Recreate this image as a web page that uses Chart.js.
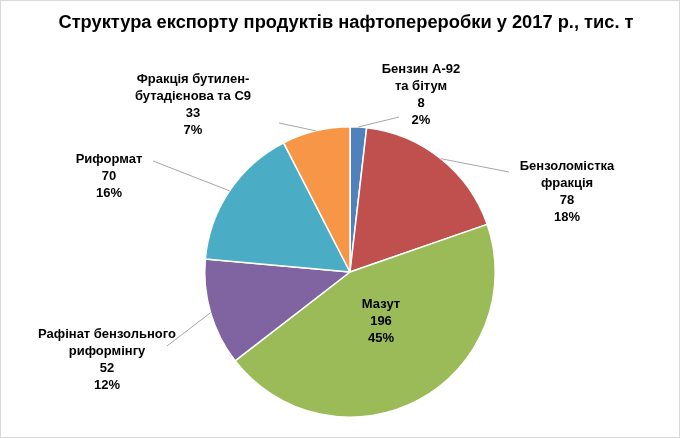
<!DOCTYPE html>
<html><head><meta charset="utf-8">
<script src="https://cdn.jsdelivr.net/npm/chart.js@4"></script>
<style>
html,body{margin:0;padding:0;background:#fff}
#wrap{width:678px;height:436px;border:1px solid #d9d9d9;position:relative}
</style></head>
<body><div id="wrap"><canvas id="c" width="678" height="436"></canvas></div>
<script>
const title = "Структура експорту продуктів нафтопереробки у 2017 р., тис. т";
const categories = [["Бензин А-92","та бітум"],["Бензоломістка","фракція"],["Мазут"],["Рафінат бензольного","риформінгу"],["Риформат"],["Фракція бутилен-","бутадієнова та С9"]];
const values = [8,78,196,52,70,33];
const percents = ["2%","18%","45%","12%","16%","7%"];
const colors = ["#4F81BD","#C0504D","#9BBB59","#8064A2","#4BACC6","#F79646"];
// label anchor (center of first text line) and leader end, layout only
const labelPos = [[420,68,398,116],[566,165,508,171],[380,303,null,null],[106,333,166,345],[108,158,152,160],[192,78,278,122]];

const labelsPlugin = {
  id:"lbls",
  afterDraw(chart){
    const ctx = chart.ctx;
    ctx.save();
    ctx.fillStyle="#000";
    ctx.font="bold 18.3px 'Liberation Sans', Arial";
    ctx.textAlign="center";ctx.textBaseline="middle";
    ctx.fillText(title,345,22);
    ctx.font="bold 13px 'Liberation Sans', Arial";
    const arcs = chart.getDatasetMeta(0).data;
    arcs.forEach((a,i)=>{
      const [x,y,lx,ly]=labelPos[i];
      const lines=[...categories[i],String(values[i]),percents[i]];
      lines.forEach((t,k)=>ctx.fillText(t,x,y+k*17.3));
      if(lx!==null){
        const mid=(a.startAngle+a.endAngle)/2;
        const r=a.outerRadius;
        ctx.strokeStyle="#a6a6a6";ctx.lineWidth=1;
        ctx.beginPath();
        ctx.moveTo(a.x+Math.cos(mid)*r,a.y+Math.sin(mid)*r);
        ctx.lineTo(lx,ly);ctx.stroke();
      }
    });
    ctx.restore();
  }
};

new Chart(document.getElementById("c"),{
  type:"pie",
  data:{labels:categories.map(c=>c.join(" ")),datasets:[{data:values,backgroundColor:colors,borderColor:"#fff",borderWidth:1.5}]},
  options:{responsive:false,animation:false,
    layout:{padding:{top:125,bottom:19,left:20,right:0}},
    plugins:{legend:{display:false},tooltip:{enabled:false}}},
  plugins:[labelsPlugin]
});
</script></body></html>
